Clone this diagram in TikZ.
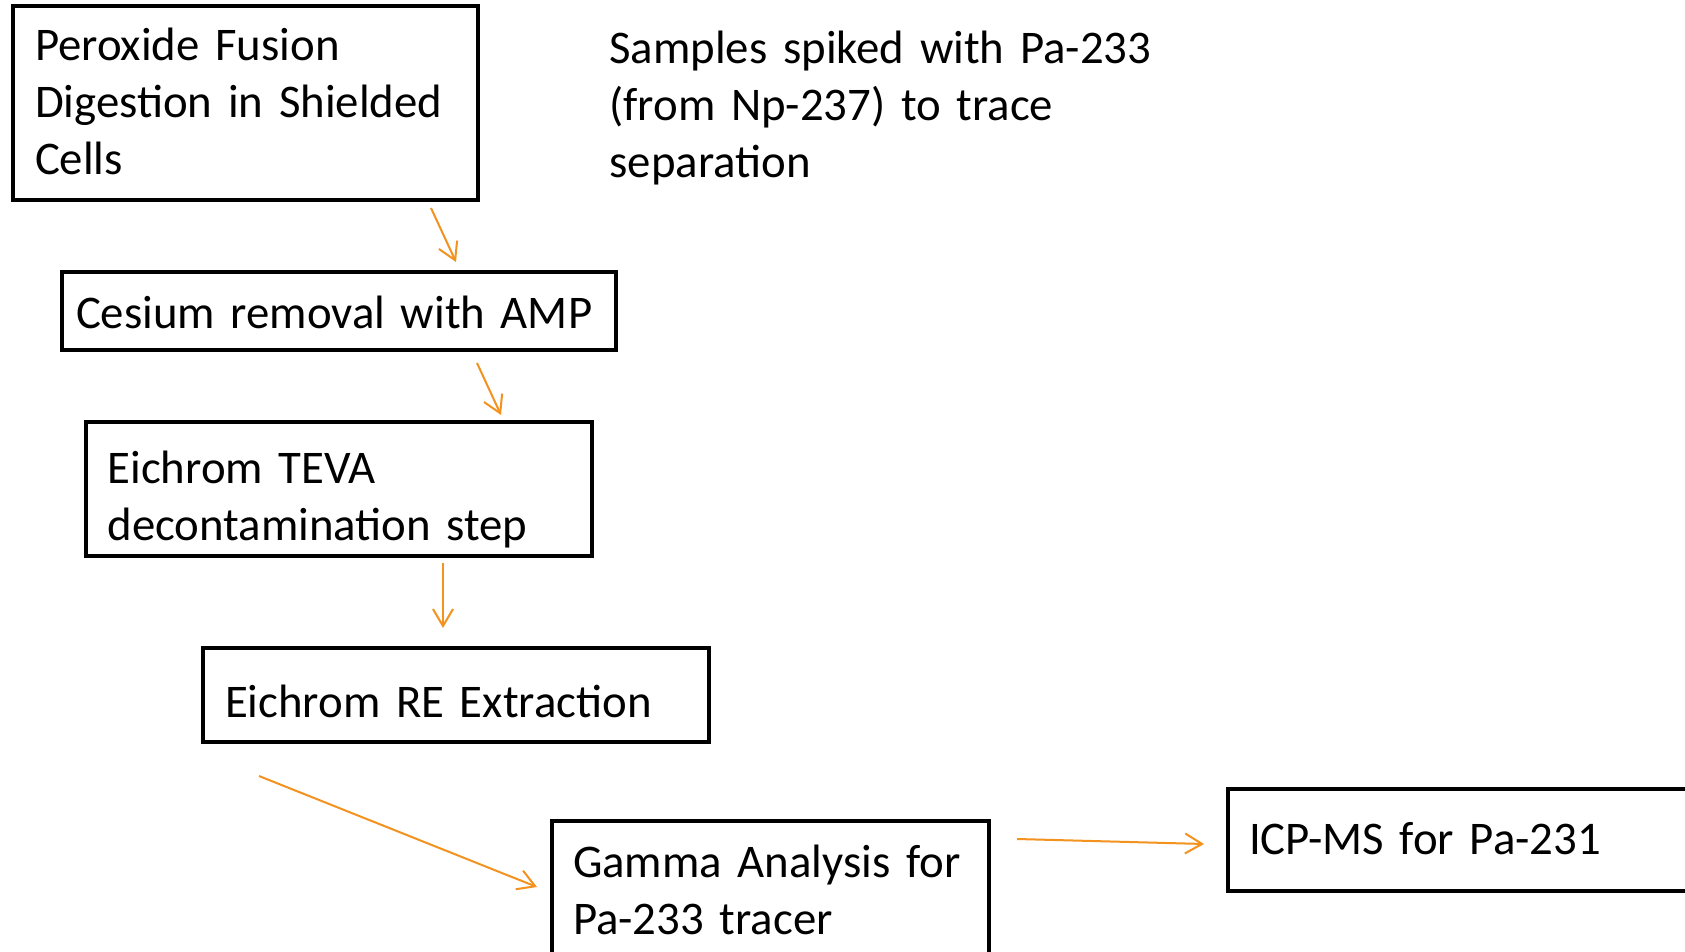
\documentclass[tikz,border=0pt]{standalone}
\usepackage{fontspec}
\setmainfont{Carlito}
\usetikzlibrary{arrows.meta}
\definecolor{arrorange}{RGB}{243,146,30}
\tikzset{
  stepbox/.style={draw=black, line width=2pt, align=left, inner ysep=0pt,
    font=\fontsize{23.4pt}{28.5pt}\selectfont},
  plaintext/.style={align=left, inner sep=0pt, text height=0pt, text depth=0pt,
    font=\fontsize{23.4pt}{28.5pt}\selectfont},
  flow/.style={draw=arrorange, line width=1pt,
    -{Straight Barb[length=8.5pt,width=10pt]}}
}
\begin{document}
\begin{tikzpicture}[x=0.5pt,y=-0.5pt]
\useasboundingbox (0,0) rectangle (1685,952);
\clip (0,0) rectangle (1685,952);
\fill[white] (0,0) rectangle (1685,952);

\node[stepbox, minimum width=232.5pt, minimum height=97pt, inner xsep=11pt,
  text width=210.5pt, text height=0pt, text depth=42pt] (b1) at (245.5,103)
  {\mbox{Peroxide Fusion}\\\mbox{Digestion in Shielded}\\\mbox{Cells}};

\node[plaintext, anchor=west, text width=300pt] (note) at (609,64)
  {\mbox{Samples spiked with Pa-233}\\\mbox{(from Np-237) to trace}\\\mbox{separation}};

\node[stepbox, minimum width=277pt, minimum height=39pt, inner xsep=7pt,
  text width=263pt, text height=17pt, text depth=0pt] (b2) at (339,311)
  {\mbox{Cesium removal with AMP}};

\node[stepbox, minimum width=253pt, minimum height=67pt, inner xsep=10.75pt,
  text width=231.5pt, text height=0pt, text depth=6pt] (b3) at (339,489)
  {\mbox{Eichrom TEVA}\\\mbox{decontamination step}};

\node[stepbox, minimum width=253pt, minimum height=47pt, inner xsep=11pt,
  text width=231pt, text height=22pt, text depth=0pt] (b4) at (456,695)
  {\mbox{Eichrom RE Extraction}};

\node[stepbox, minimum width=218.5pt, minimum height=82pt, inner xsep=10.5pt,
  text width=197.5pt, text height=0pt, text depth=26pt] (b5) at (770.5,903)
  {\mbox{Gamma Analysis for}\\\mbox{Pa-233 tracer}};

\node[stepbox, minimum width=246pt, minimum height=51pt, inner xsep=10.5pt,
  text width=225pt, text height=14pt, text depth=0pt] (b6) at (1474,840)
  {\mbox{ICP-MS for Pa-231}};

\coordinate (a1s) at (431,208); \coordinate (a1e) at (456,262);
\coordinate (a2s) at (477,363); \coordinate (a2e) at (501,415);
\coordinate (a3s) at (443,563); \coordinate (a3e) at (443,628);
\coordinate (a4s) at (259,776); \coordinate (a4e) at (537,887);
\coordinate (a5s) at (1017,839); \coordinate (a5e) at (1204,844);

\draw[flow] (a1s) -- (a1e);
\draw[flow] (a2s) -- (a2e);
\draw[flow] (a3s) -- (a3e);
\draw[flow] (a4s) -- (a4e);
\draw[flow] (a5s) -- (a5e);
\end{tikzpicture}
\end{document}
